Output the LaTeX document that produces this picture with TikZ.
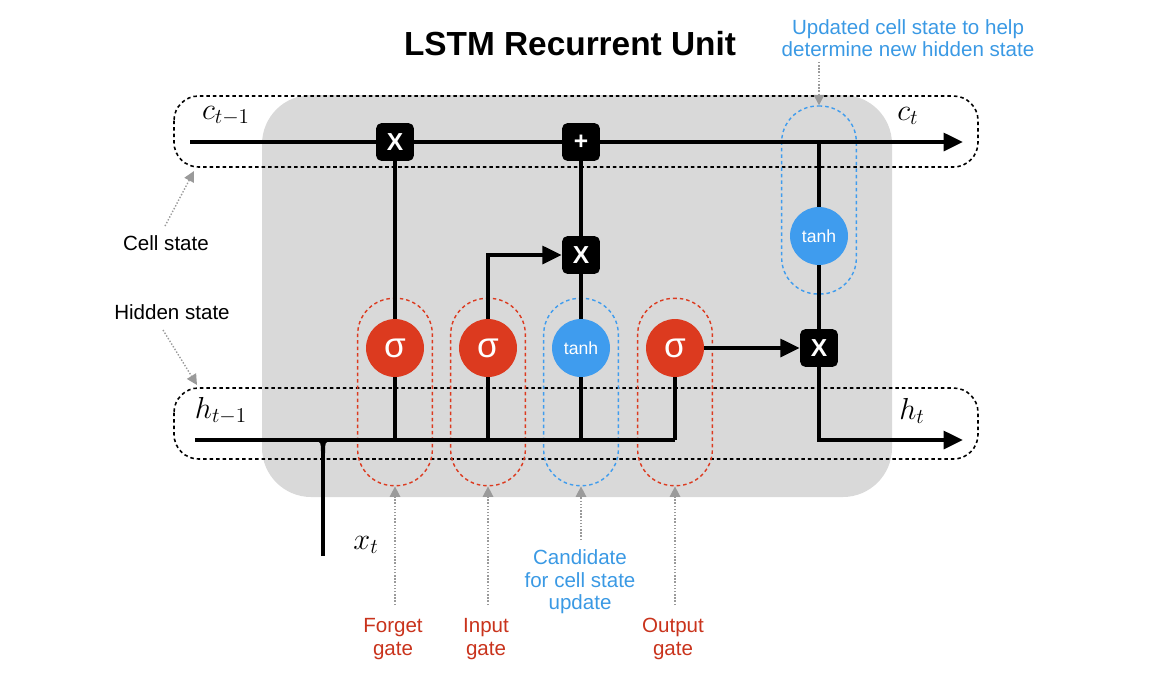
\documentclass[tikz,border=0pt]{standalone}
\usepackage{fontspec}
\setmainfont{Liberation Sans}
\usetikzlibrary{arrows.meta}
\definecolor{bgc}{HTML}{D9D9D9}
\definecolor{gred}{HTML}{DC3A1F}
\definecolor{gblue}{HTML}{3F9CEE}
\definecolor{lred}{HTML}{C9331C}
\definecolor{lblue}{HTML}{3A99E4}
\definecolor{ngray}{HTML}{9A9A9A}
\pgfdeclarelayer{back}
\pgfdeclarelayer{mid}
\pgfsetlayers{back,mid,main}
\begin{document}
\begin{tikzpicture}[x=0.02cm,y=-0.02cm,
  wire/.style={line width=2.3pt},
  arr/.style={wire,-{Triangle[length=11pt,width=10pt]}},
  opbox/.style={fill=black,rounded corners=3pt,minimum size=21.5pt,text=white,inner sep=0pt,font=\bfseries\fontsize{14}{14}\selectfont},
  sig/.style={circle,fill=gred,minimum size=33pt,text=white,inner sep=0pt,font=\fontsize{20}{20}\selectfont},
  th/.style={circle,fill=gblue,minimum size=33pt,text=white,inner sep=0pt,font=\fontsize{10}{10}\selectfont},
  statebox/.style={draw,dash pattern=on 2pt off 1.7pt,line width=0.9pt,rounded corners=14pt},
  gatebox/.style={dash pattern=on 2pt off 1.7pt,line width=0.8pt,rounded corners=20.5pt,minimum width=42.5pt,inner sep=0pt},
  note/.style={ngray,densely dotted,line width=0.8pt,-{Triangle[length=6pt,width=6pt,fill=ngray]}},
  lab/.style={font=\fontsize{11.7}{12.8}\selectfont,align=center},
  mlab/.style={font=\fontsize{17}{17}\selectfont}
]
\useasboundingbox (0,0) rectangle (1158,691);
% nodes
\node[opbox] (fx) at (395,142) {X};
\node[opbox] (px) at (581,142) {+};
\node[opbox] (ix) at (581,255) {X};
\node[opbox] (ox) at (819,348) {X};
\node[sig] (sf) at (395,348) {σ};
\node[sig] (si) at (488,348) {σ};
\node[th] (sc) at (581,348) {tanh};
\node[sig] (so) at (675,348) {σ};
\node[th] (tu) at (819,236) {tanh};
\begin{pgfonlayer}{back}
% background unit
\fill[bgc,rounded corners=28pt] (262,95) rectangle (892,497);
% state boxes
\draw[statebox] (174,96) rectangle (978,167);
\draw[statebox] (174,388) rectangle (978,459);
% gate boxes
\node[gatebox,draw=gred,minimum height=106.6pt] (fbox) at (395,392) {};
\node[gatebox,draw=gred,minimum height=106.6pt] (ibox) at (488,392) {};
\node[gatebox,draw=gblue,minimum height=106.6pt] (cbox) at (581,392) {};
\node[gatebox,draw=gred,minimum height=106.6pt] (obox) at (675,392) {};
\node[gatebox,draw=gblue,minimum height=107pt] (ubox) at (819,200) {};
\end{pgfonlayer}
% coordinates
\coordinate (cin) at (190,142);
\coordinate (cout) at (963,142);
\coordinate (hin) at (195,440);
\coordinate (hend) at (675,440);
\coordinate (hout) at (963,440);
\coordinate (xin) at (323,556);
\coordinate (xj) at (323,440);
\coordinate (hf) at (395,440);
\coordinate (hi) at (488,440);
\coordinate (hc) at (581,440);
\coordinate (ho) at (675,440);
\coordinate (ct) at (819,142);
\begin{pgfonlayer}{mid}
\draw[arr] (cin) -- (cout);
\draw[wire] (hin) -- (hend);
\draw[wire] (xin) -- (xj);
\fill (315,441) .. controls (321,442) .. (321,453) -- (325,453) .. controls (325,442) .. (331,441) -- cycle;
\draw[wire] (hf) -- (sf);
\draw[wire] (sf) -- (fx);
\draw[wire] (hi) -- (si);
\draw[arr] (si) |- (ix);
\draw[wire] (hc) -- (sc);
\draw[wire] (sc) -- (ix);
\draw[wire] (ix) -- (px);
\draw[wire] (ho) -- (so);
\draw[arr] (so) -- (ox);
\draw[wire] (ct) -- (tu);
\draw[wire] (tu) -- (ox);
\draw[arr] (ox) |- (hout);
\end{pgfonlayer}
% math labels
\node[mlab] (lc1) at (226,116) {$c_{t-1}$};
\node[mlab] (lc2) at (908,116) {$c_t$};
\node[mlab] (lh1) at (221,411) {$h_{t-1}$};
\node[mlab] (lh2) at (912,411) {$h_t$};
\node[mlab] (lx) at (366,545) {$x_t$};
% title
\node[font=\bfseries\fontsize{19}{19}\selectfont] (title) at (570,44) {LSTM Recurrent Unit};
% notes
\node[lab] (cs) at (166,243) {Cell state};
\node[lab] (hs) at (172,312) {Hidden state};
\coordinate (csa) at (194,171);
\coordinate (hsa) at (197,385);
\draw[note] (165,226) -- (csa);
\draw[note] (163,330) -- (hsa);
\node[lab,text=lblue] (ul) at (908,38) {Updated cell state to help\\determine new hidden state};
\draw[note] (819,62) -- (ubox.north);
\node[lab,text=lblue] (cl) at (580,582) {Candidate\\for cell state\\update};
\draw[note] (581,540) -- (cbox.south);
\node[lab,text=lred] (fl) at (393,639) {Forget\\gate};
\draw[note] (395,605) -- (fbox.south);
\node[lab,text=lred] (il) at (486,639) {Input\\gate};
\draw[note] (488,605) -- (ibox.south);
\node[lab,text=lred] (ol) at (673,639) {Output\\gate};
\draw[note] (675,605) -- (obox.south);
\end{tikzpicture}
\end{document}
